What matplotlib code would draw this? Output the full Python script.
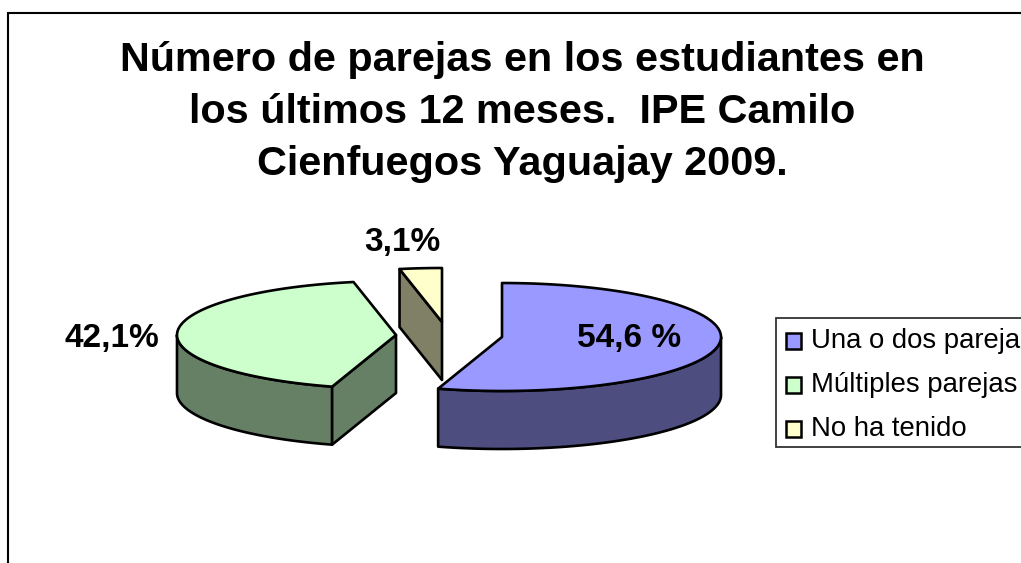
import numpy as np
import matplotlib
matplotlib.use("Agg")
import matplotlib.pyplot as plt
from matplotlib.patches import Polygon, Patch, Rectangle

plt.rcParams['font.family'] = ['Liberation Sans', 'DejaVu Sans']

categories = ["Una o dos parejas", "Múltiples parejas", "No ha tenido"]
values = [54.6, 42.1, 3.1]
value_labels = ["54,6 %", "42,1%", "3,1%"]
title = "Número de parejas en los estudiantes en\nlos últimos 12 meses.  IPE Camilo\nCienfuegos Yaguajay 2009."

top_colors = ["#9999FF", "#CCFFCC", "#FFFFCC"]
side_colors = ["#4D4D80", "#668066", "#808066"]
centers = [(502, 337), (396, 335), (442, 322)]
label_pos = [(629, 338), (112, 338), (402, 242)]
RX, RY, DEPTH = 219, 54, 58
LW = 1.9

fig = plt.figure(figsize=(10.21, 5.63), dpi=100)
ax = fig.add_axes([0, 0, 1, 1])
ax.set_xlim(0, 1021)
ax.set_ylim(563, 0)
ax.axis("off")

# chart frame (runs off the right and bottom edges)
ax.plot([7.5, 7.5, 1030], [570, 12.5, 12.5], color="black", lw=1.5, clip_on=False,
        solid_joinstyle="miter")

def rim(c, a0, a1, n=120):
    t = np.radians(np.linspace(a0, a1, n))
    return np.column_stack([c[0] + RX * np.sin(t), c[1] - RY * np.cos(t)])

def poly(pts, color, z):
    ax.add_patch(Polygon(pts, closed=True, facecolor=color, edgecolor="black",
                         lw=LW, joinstyle="round", zorder=z))

edges = np.cumsum([0] + values) / sum(values) * 360
for i in range(len(values)):
    a0, a1, c = edges[i], edges[i + 1], centers[i]
    apex = np.array(c, dtype=float)
    drop = np.array([0, DEPTH])
    # outer wall: visible on the front half of the ellipse
    v0, v1 = max(a0, 90), min(a1, 270)
    if v1 > v0:
        r = rim(c, v0, v1)
        poly(np.vstack([r, (r + drop)[::-1]]), side_colors[i], 2)
    # cut wall at the slice's start edge
    if 180 < a0 < 360:
        p = rim(c, a0, a0, 1)[0]
        poly(np.array([p, apex, apex + drop, p + drop]), side_colors[i], 2)
    poly(np.vstack([apex, rim(c, a0, a1)]), top_colors[i], 3)

for txt, (x, y) in zip(value_labels, label_pos):
    ax.text(x, y, txt, fontsize=24, fontweight="bold", ha="center", va="center", zorder=5)

ax.text(522, 112, title, fontsize=29.75, fontweight="bold", ha="center", va="center",
        linespacing=1.47)

# legend frame runs off the right edge
ax.add_patch(Rectangle((775.5, 318), 260, 129, facecolor="white", edgecolor="#333333",
                       lw=1.3, zorder=4, clip_on=False))
handles = [Patch(facecolor=col, edgecolor="black", lw=1.8) for col in top_colors]
leg = ax.legend(handles, categories, loc="upper left", bbox_to_anchor=(786, 328),
                bbox_transform=ax.transData, borderaxespad=0, fontsize=19.8,
                frameon=False, handlelength=0.55, handleheight=0.5, handletextpad=0.36,
                labelspacing=0.65, borderpad=0)
leg.set_zorder(6)
for p in leg.get_patches():
    p.set_y(p.get_y() - 2.2)

fig.savefig("out.png", dpi=100)
